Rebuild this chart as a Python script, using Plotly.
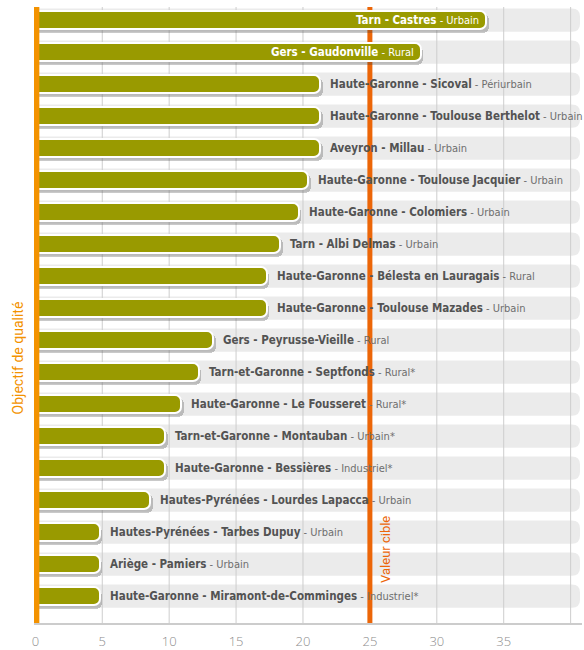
import plotly.graph_objects as go

# Annual mean concentration per monitoring station
regions = ["Tarn", "Gers", "Haute-Garonne", "Haute-Garonne", "Aveyron",
           "Haute-Garonne", "Haute-Garonne", "Tarn", "Haute-Garonne",
           "Haute-Garonne", "Gers", "Tarn-et-Garonne", "Haute-Garonne",
           "Tarn-et-Garonne", "Haute-Garonne", "Hautes-Pyrénées",
           "Hautes-Pyrénées", "Ariège", "Haute-Garonne"]
sites = ["Castres", "Gaudonville", "Sicoval", "Toulouse Berthelot", "Millau",
         "Toulouse Jacquier", "Colomiers", "Albi Delmas",
         "Bélesta en Lauragais", "Toulouse Mazades", "Peyrusse-Vieille",
         "Septfonds", "Le Fousseret", "Montauban", "Bessières",
         "Lourdes Lapacca", "Tarbes Dupuy", "Pamiers",
         "Miramont-de-Comminges"]
site_types = ["Urbain", "Rural", "Périurbain", "Urbain", "Urbain", "Urbain",
              "Urbain", "Urbain", "Rural", "Urbain", "Rural", "Rural*",
              "Rural*", "Urbain*", "Industriel*", "Urbain", "Urbain",
              "Urbain", "Industriel*"]
values = [33.7, 28.8, 21.3, 21.3, 21.3, 20.4, 19.7, 18.3, 17.3, 17.3,
          13.3, 12.2, 10.9, 9.7, 9.7, 8.6, 4.8, 4.8, 4.8]

target_value = 25
x_ticks = [0, 5, 10, 15, 20, 25, 30, 35, 40]
x_tick_text = ["0", "5", "10", "15", "20", "25", "30", "35", ""]

BAR_GREEN = "#999a00"
ROW_GREY = "#ebebeb"
GRID_GREY = "#cdcdcd"
AXIS_ORANGE = "#f39200"
TARGET_ORANGE = "#ec6608"
LABEL_FONT = "DejaVu Sans Condensed, sans-serif"

pos = list(range(len(values)))
x_max = 40.85
y_top, y_bottom = -0.41, 18.84
bar_w = 0.58

fig = go.Figure()

# soft drop shadow under each bar
fig.add_trace(go.Bar(
    x=[v + 0.18 for v in values], y=pos, orientation="h",
    width=bar_w, offset=-bar_w / 2 + 0.1,
    marker=dict(color="rgba(60,60,60,0.28)", cornerradius=6,
                line=dict(width=0)),
    hoverinfo="skip", showlegend=False,
))
# the bars themselves
fig.add_trace(go.Bar(
    x=values, y=pos, orientation="h",
    width=bar_w, offset=-bar_w / 2,
    marker=dict(color=BAR_GREEN, cornerradius=6,
                line=dict(color="white", width=2)),
    hovertemplate="%{x}<extra></extra>", showlegend=False,
))

shapes = []
# light grey rounded row backgrounds
row_h = 0.36
rx, ry = 0.6, 0.25
row_end = 40.7
for i in pos:
    top, bot = i - row_h, i + row_h
    path = (f"M 0,{top} L {row_end - rx},{top} "
            f"Q {row_end},{top} {row_end},{top + ry} "
            f"L {row_end},{bot - ry} Q {row_end},{bot} {row_end - rx},{bot} "
            f"L 0,{bot} Z")
    shapes.append(dict(type="path", path=path, xref="x", yref="y",
                       fillcolor=ROW_GREY, line=dict(width=0), layer="below"))

# vertical gridlines drawn over the row backgrounds
for t in x_ticks[1:]:
    shapes.append(dict(type="line", xref="x", yref="y", x0=t, x1=t,
                       y0=y_top, y1=y_bottom,
                       line=dict(color=GRID_GREY, width=1), layer="below"))

# target value line
shapes.append(dict(type="line", xref="x", yref="y", x0=target_value,
                   x1=target_value, y0=y_top, y1=y_bottom,
                   line=dict(color=TARGET_ORANGE, width=5), layer="below"))
# quality objective line on the left edge
shapes.append(dict(type="rect", xref="x", yref="paper", xsizemode="pixel",
                   xanchor=0, x0=-2, x1=4, y0=0, y1=1,
                   fillcolor=AXIS_ORANGE, line=dict(width=0), layer="above"))

annotations = []
for i, (r, s, t, v) in enumerate(zip(regions, sites, site_types, values)):
    inside = v > target_value
    if inside:
        txt = (f"<b>{r} - {s}</b>"
               f"<span style='font-size:11px'> - {t}</span>")
        annotations.append(dict(x=v, y=i, xref="x", yref="y", text=txt,
                                showarrow=False, xanchor="right",
                                yanchor="middle", xshift=-5,
                                font=dict(family=LABEL_FONT, size=11.5,
                                          color="white")))
    else:
        txt = (f"<b>{r} - {s}</b>"
               f"<span style='font-size:11px;color:#6e6e6e'> - {t}</span>")
        annotations.append(dict(x=v, y=i, xref="x", yref="y", text=txt,
                                showarrow=False, xanchor="left",
                                yanchor="middle", xshift=8,
                                font=dict(family=LABEL_FONT, size=11.5,
                                          color="#535353")))

annotations.append(dict(text="Objectif de qualité", x=0, y=0.43,
                        xref="x", yref="paper", xshift=-17, textangle=-90,
                        xanchor="center", yanchor="middle", showarrow=False,
                        font=dict(family="Roboto, sans-serif", size=14,
                                  color=AXIS_ORANGE)))
annotations.append(dict(text="Valeur cible", x=target_value, y=0.12,
                        xref="x", yref="paper", xshift=15, textangle=-90,
                        xanchor="center", yanchor="middle", showarrow=False,
                        font=dict(family="Roboto, sans-serif", size=13,
                                  color=TARGET_ORANGE)))

fig.update_layout(
    width=584, height=650,
    margin=dict(l=34, r=2, t=7, b=27),
    paper_bgcolor="white", plot_bgcolor="white",
    barmode="overlay", bargap=0,
    shapes=shapes, annotations=annotations,
    xaxis=dict(range=[-0.1, x_max], tickvals=x_ticks, ticktext=x_tick_text,
               showgrid=False, zeroline=False, showline=True,
               linecolor="#cccccc", linewidth=2, ticks="",
               ticklabelstandoff=5, automargin=False,
               tickfont=dict(family="Open Sans, sans-serif", size=13,
                             color="#8c8c8c", weight=300)),
    yaxis=dict(range=[y_bottom, y_top], showticklabels=False, showgrid=False,
               zeroline=False, showline=False, automargin=False),
)

fig.write_html("out.html")
